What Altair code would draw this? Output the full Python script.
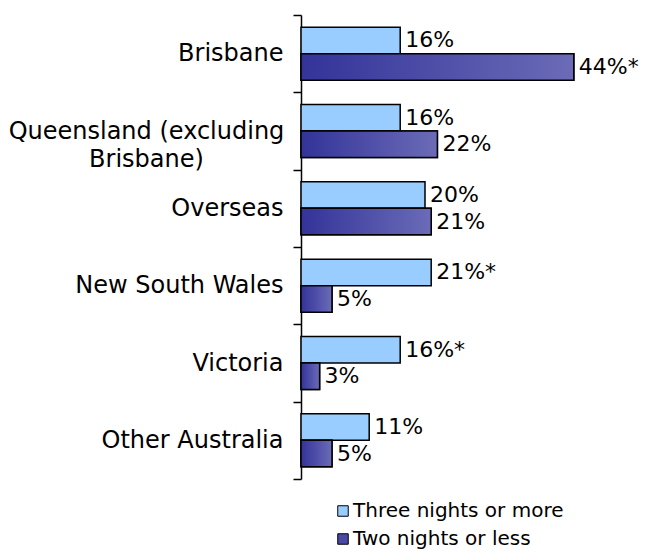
import altair as alt
import pandas as pd

categories = ["Brisbane", "Queensland (excluding Brisbane)", "Overseas",
              "New South Wales", "Victoria", "Other Australia"]
series = ["Three nights or more", "Two nights or less"]
three_vals = [16, 16, 20, 21, 16, 11]
two_vals = [44, 22, 21, 5, 3, 5]
three_labels = ["16%", "16%", "20%", "21%*", "16%*", "11%"]
two_labels = ["44%*", "22%", "21%", "5%", "3%", "5%"]

rows = []
for c, v, l in zip(categories, three_vals, three_labels):
    rows.append({"cat": c, "series": series[0], "value": v, "label": l})
for c, v, l in zip(categories, two_vals, two_labels):
    rows.append({"cat": c, "series": series[1], "value": v, "label": l})
df = pd.DataFrame(rows)

FONT = "DejaVu Sans"
QLD = "Queensland (excluding Brisbane)"

y_enc = alt.Y(
    "cat:N",
    sort=categories,
    title=None,
    scale=alt.Scale(paddingInner=0, paddingOuter=0),
    axis=alt.Axis(
        tickBand="extent",
        domainColor="black",
        domainWidth=1.5,
        tickColor="black",
        tickWidth=1.5,
        tickSize=8,
        labelFont=FONT,
        labelFontSize=24,
        labelColor="black",
        labelLimit=400,
        labelLineHeight=28,
        labelExpr="datum.label == '" + QLD + "' ? ['Queensland (excluding', 'Brisbane)'] : datum.label",
        labelAlign={"condition": {"test": "datum.value == '" + QLD + "'", "value": "center"}, "value": "right"},
        labelPadding={"condition": {"test": "datum.value == '" + QLD + "'", "value": 147}, "value": 10},
        grid=False,
    ),
)
yoff_enc = alt.YOffset("series:N", sort=series,
                       scale=alt.Scale(domain=series, paddingOuter=0.46, paddingInner=0))
x_enc = alt.X("value:Q", scale=alt.Scale(domain=[0, 50]), axis=None)

bars = alt.Chart(df).mark_bar(stroke="black", strokeWidth=1.5).encode(
    x=x_enc,
    y=y_enc,
    yOffset=yoff_enc,
    color=alt.Color(
        "series:N",
        sort=series,
        scale=alt.Scale(domain=series, range=["#99CCFF", "#4A4AA6"]),
        legend=alt.Legend(
            title=None,
            orient="none",
            legendX=32,
            legendY=486,
            direction="vertical",
            symbolType="square",
            symbolSize=110,
            symbolStrokeColor="black",
            symbolStrokeWidth=1,
            labelFont=FONT,
            labelFontSize=20,
            labelColor="black",
            labelOffset=0,
            rowPadding=8,
            labelLimit=400,
        ),
    ),
)

gradient = alt.Gradient(
    gradient="linear",
    stops=[alt.GradientStop(color="#333399", offset=0),
           alt.GradientStop(color="#6B6BB8", offset=1)],
    x1=0, x2=1, y1=0, y2=0,
)

dark = alt.Chart(df).transform_filter(
    alt.datum.series == series[1]
).mark_bar(color=gradient, stroke="black", strokeWidth=1.5).encode(
    x=x_enc,
    y=y_enc,
    yOffset=yoff_enc,
)

text = alt.Chart(df).mark_text(
    align="left", baseline="middle", dx=5, font=FONT, fontSize=22, color="black"
).encode(
    x=x_enc,
    y=y_enc,
    yOffset=yoff_enc,
    text="label:N",
)

chart = alt.layer(bars, dark, text).properties(
    width=310,
    height=464,
    autosize=alt.AutoSizeParams(type="none"),
    padding={"top": 7, "left": 293, "right": 29, "bottom": 73},
).configure(background="white").configure_view(stroke=None)

chart.save("out.html", embed_options={"renderer": "svg", "actions": False})
